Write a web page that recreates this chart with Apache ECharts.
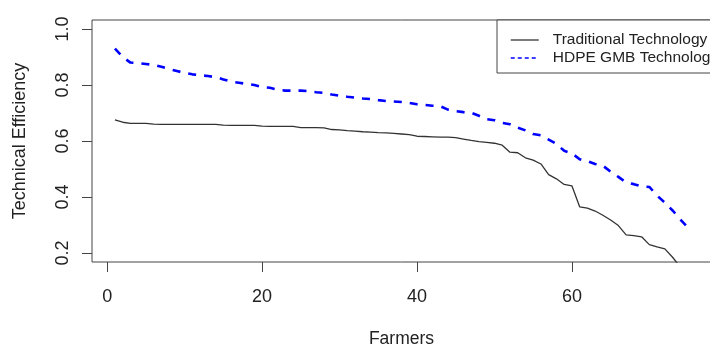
<!DOCTYPE html>
<html>
<head>
<meta charset="utf-8">
<script src="https://cdn.jsdelivr.net/npm/echarts@6/dist/echarts.min.js"></script>
<style>
html,body{margin:0;padding:0;background:#fff;}
#chart{width:710px;height:347px;}
</style>
</head>
<body>
<div id="chart"></div>
<script>
var farmers = [1,2,3,4,5,6,7,8,9,10,11,12,13,14,15,16,17,18,19,20,21,22,23,24,25,26,27,28,29,30,31,32,33,34,35,36,37,38,39,40,41,42,43,44,45,46,47,48,49,50,51,52,53,54,55,56,57,58,59,60,61,62,63,64,65,66,67,68,69,70,71,72,73,74,75];
var traditional = [0.675,0.667,0.663,0.663,0.663,0.660,0.659,0.659,0.659,0.659,0.659,0.659,0.659,0.659,0.657,0.656,0.656,0.656,0.656,0.653,0.652,0.652,0.652,0.652,0.648,0.648,0.648,0.647,0.641,0.640,0.637,0.635,0.633,0.632,0.630,0.629,0.627,0.625,0.623,0.617,0.616,0.615,0.614,0.614,0.612,0.607,0.602,0.598,0.595,0.592,0.585,0.560,0.558,0.540,0.532,0.518,0.480,0.465,0.445,0.440,0.365,0.360,0.350,0.335,0.318,0.298,0.265,0.262,0.258,0.230,0.222,0.215,0.185,0.150,0.120];
var hdpe = [0.930,0.900,0.880,0.878,0.875,0.872,0.865,0.857,0.850,0.843,0.838,0.835,0.832,0.828,0.820,0.812,0.808,0.804,0.800,0.793,0.790,0.783,0.780,0.780,0.780,0.778,0.774,0.772,0.766,0.762,0.758,0.755,0.752,0.750,0.746,0.743,0.741,0.739,0.736,0.731,0.729,0.726,0.724,0.712,0.707,0.703,0.701,0.690,0.678,0.674,0.665,0.660,0.648,0.638,0.625,0.620,0.605,0.590,0.565,0.556,0.535,0.528,0.518,0.512,0.490,0.472,0.452,0.446,0.438,0.436,0.405,0.380,0.352,0.320,0.290];
var xTicks = [0,20,40,60];
var yTicks = [0.2,0.4,0.6,0.8,1.0];
var seriesNames = ['Traditional Technology','HDPE GMB Technology'];

function pairs(xs, ys){ return xs.map(function(x,i){ return [x, ys[i]]; }); }

var FONT = "'Liberation Sans', Arial, sans-serif";
var AX = '#444';
var X_MIN = -1.96, X_MAX = 77.96, Y_MIN = 0.168, Y_MAX = 1.032;
var chart = echarts.init(document.getElementById('chart'), null, {renderer:'canvas'});
chart.setOption({
  animation:false,
  backgroundColor:'#fff',
  grid:{left:92, top:20, right:-1, bottom:85, show:true, borderColor:AX, borderWidth:1, backgroundColor:'transparent',
        containLabel:false, outerBoundsMode:'none'},
  legend:{
    orient:'vertical', left:497, top:20,
    padding:[11,30,6,13], itemGap:0, itemWidth:28, itemHeight:14,
    borderColor:AX, borderWidth:1, backgroundColor:'#fff',
    itemStyle:{opacity:0},
    textStyle:{fontFamily:FONT, fontSize:15.5, color:'#222', lineHeight:18, padding:[0,0,0,9]},
    data:[
      {name:seriesNames[0], lineStyle:{color:'#333', width:1.3, type:'solid'}},
      {name:seriesNames[1], lineStyle:{color:'#0000ff', width:1.5, type:[4,3]}}
    ]
  },
  xAxis:{
    type:'value', min:X_MIN, max:X_MAX, position:'bottom',
    name:'Farmers', nameLocation:'middle', nameGap:68,
    nameTextStyle:{fontFamily:FONT, fontSize:17.5, color:'#222'},
    axisLine:{show:false, onZero:false},
    axisTick:{show:false},
    axisLabel:{show:true, margin:26, fontFamily:FONT, fontSize:18, color:'#222', customValues:xTicks},
    splitLine:{show:false}
  },
  yAxis:{
    type:'value', min:Y_MIN, max:Y_MAX, position:'left',
    name:'Technical Efficiency', nameLocation:'middle', nameGap:63,
    nameTextStyle:{fontFamily:FONT, fontSize:18, color:'#222'},
    axisLine:{show:false, onZero:false},
    axisTick:{show:false},
    axisLabel:{show:true, margin:19.5, rotate:90, fontFamily:FONT, fontSize:18, color:'#222', customValues:yTicks,
      formatter:function(v){ return v.toFixed(1); }},
    splitLine:{show:false}
  },
  series:[
    {name:seriesNames[0], type:'line', data:pairs(farmers, traditional), symbol:'none', clip:true,
     lineStyle:{color:'#333', width:1.3, type:'solid'}, itemStyle:{color:'#333'}},
    {name:seriesNames[1], type:'line', data:pairs(farmers, hdpe), symbol:'none', clip:true,
     lineStyle:{color:'#0000ff', width:2.6, type:[8,8]}, itemStyle:{color:'#0000ff'}}
  ]
});

// tick marks placed through the chart's own scales
var TICK = 10;
var ticks = [];
xTicks.forEach(function(t){
  var p = chart.convertToPixel({gridIndex:0}, [t, Y_MIN]);
  var x = Math.round(p[0]) + 0.5, y = Math.round(p[1]);
  ticks.push({type:'line', silent:true, shape:{x1:x, y1:y, x2:x, y2:y + TICK}, style:{stroke:AX, lineWidth:1}});
});
yTicks.forEach(function(t){
  var p = chart.convertToPixel({gridIndex:0}, [X_MIN, t]);
  var x = Math.round(p[0]), y = Math.round(p[1]) + 0.5;
  ticks.push({type:'line', silent:true, shape:{x1:x - TICK, y1:y, x2:x, y2:y}, style:{stroke:AX, lineWidth:1}});
});
chart.setOption({graphic:{elements:ticks}});
</script>
</body>
</html>
